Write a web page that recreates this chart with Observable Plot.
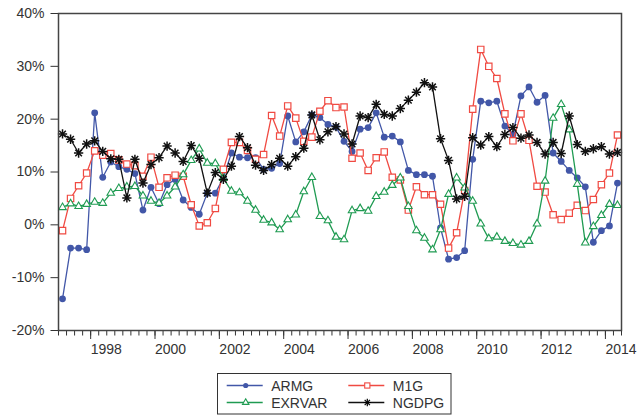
<!DOCTYPE html>
<html><head><meta charset="utf-8">
<script src="https://cdn.jsdelivr.net/npm/d3@7"></script>
<script src="https://cdn.jsdelivr.net/npm/@observablehq/plot@0.6"></script>
<style>
html,body{margin:0;padding:0;background:#fff;}
#wrap{position:relative;width:640px;height:415px;font-family:"Liberation Sans",Arial,sans-serif;}
#chart{position:absolute;left:0;top:0;}
#legend{position:absolute;left:217px;top:373px;}
</style></head>
<body><div id="wrap"><div id="chart"></div><div id="legend"></div></div>
<script>
// ---- data (quarterly, 1997Q1 .. 2014Q2), values in percent ----
const seriesNames = ["ARMG", "M1G", "EXRVAR", "NGDPG"];
const quarterLabels = d3.range(1997, 2015).flatMap(y => [1, 2, 3, 4].map(q => `${y}Q${q}`)).slice(0, 70);

const ARMG = [-14.0,-4.4,-4.4,-4.7,21.2,9.0,11.9,11.0,10.5,9.7,
  2.8,7.1,4.0,7.6,8.6,4.7,3.3,2.0,6.0,6.0,
  8.9,13.6,12.8,12.7,12.7,10.5,10.7,11.6,20.6,15.7,
  17.6,20.8,20.3,19.0,18.5,15.8,13.9,18.1,18.4,21.2,
  16.6,16.8,15.7,10.3,9.5,9.5,9.2,-0.6,-6.5,-6.2,
  -4.9,12.4,23.4,23.1,23.4,18.7,17.1,24.4,26.1,23.2,
  24.5,13.6,12.0,10.3,8.9,7.2,-3.3,-1.1,-0.2,7.9];

const M1G = [-1.1,5.0,7.4,9.8,14.0,13.2,13.5,12.3,11.5,11.2,
  9.2,12.8,7.1,8.9,9.4,9.2,3.8,-0.2,0.4,3.1,
  10.5,15.6,15.6,14.1,12.4,13.3,20.7,16.8,22.5,20.2,
  15.8,16.6,21.5,23.5,22.2,22.3,12.6,13.6,10.3,12.7,
  13.8,9.0,8.5,2.8,7.2,5.7,5.7,3.9,-4.4,-1.5,
  6.5,21.9,33.2,30.0,27.7,21.0,15.9,21.0,16.0,7.3,
  6.2,1.9,1.0,2.2,3.7,2.7,4.8,7.6,9.8,17.0];

const EXRVAR = [3.3,4.0,3.5,3.9,4.3,4.1,6.0,6.9,7.2,7.3,
  5.5,4.5,4.1,5.5,7.2,9.5,12.2,14.4,11.7,11.6,
  8.8,6.4,6.1,4.5,2.8,0.9,0.4,-0.9,1.0,1.9,
  6.3,9.0,1.6,0.8,-2.3,-2.8,2.7,3.1,2.6,5.4,
  6.2,7.5,8.9,3.5,-1.1,-2.5,-4.7,-0.9,5.8,8.9,
  7.0,4.5,0.2,-2.6,-2.3,-3.1,-3.5,-3.8,-3.1,0.2,
  8.3,20.2,22.8,18.0,7.7,-3.4,-0.3,1.8,3.9,3.7];

const NGDPG = [17.2,16.2,13.6,15.3,15.9,13.9,12.5,12.4,5.1,12.4,
  7.9,11.4,12.7,14.9,13.6,12.0,15.0,12.6,6.0,9.9,
  8.6,11.1,16.7,14.6,11.3,10.3,11.4,12.6,11.1,12.9,
  14.5,20.8,16.1,17.6,18.6,17.2,15.3,20.6,20.3,22.8,
  20.9,20.6,22.0,23.6,25.1,26.9,26.1,16.3,12.2,4.9,
  5.4,16.5,15.1,16.7,14.8,17.1,18.4,16.4,17.0,15.6,
  13.4,15.6,13.5,20.6,15.2,13.9,14.4,14.8,13.4,13.7];

const yTickValues = [-20, -10, 0, 10, 20, 30, 40];
const yearTickLabels = [1998, 2000, 2002, 2004, 2006, 2008, 2010, 2012, 2014];

// ---- build table ----
const colors = {ARMG: "#4257a8", M1G: "#f04a42", EXRVAR: "#1f9b52", NGDPG: "#111111"};
const qTime = lab => +lab.slice(0, 4) + (+lab.slice(5) - 1) / 4 + 0.125;
const valuesBySeries = {ARMG, M1G, EXRVAR, NGDPG};
const rows = {};
for (const s of seriesNames) rows[s] = valuesBySeries[s].map((v, i) => ({t: qTime(quarterLabels[i]), v, s}));
const minorTicks = d3.range(0, 71).map(k => 1997 + k / 4);

const lineOpts = (s) => ({x: "t", y: "v", stroke: colors[s], strokeWidth: 1.3});

const chart = Plot.plot({
  width: 640, height: 360,
  marginLeft: 58, marginRight: 19, marginTop: 13, marginBottom: 30,
  style: {fontFamily: "'Liberation Sans', Arial, sans-serif", fontSize: "14px", color: "#333", background: "#fff", overflow: "visible"},
  x: {domain: [1997, 2014.5], label: null},
  y: {domain: [-20, 40], label: null},
  marks: [
    Plot.axisY(yTickValues, {tickSize: 7.5, tickPadding: 6.5, tickFormat: d => d + "%", fontSize: 14, label: null}),
    Plot.axisX(minorTicks, {tickSize: 5.5, tickFormat: () => "", label: null}),
    Plot.axisX(yearTickLabels, {tickSize: 9, tickPadding: 5, tickFormat: d => String(d), textAnchor: "start", fontSize: 14, label: null}),
    Plot.line(rows.ARMG, lineOpts("ARMG")),
    Plot.dot(rows.ARMG, {x: "t", y: "v", symbol: "circle", r: 3.4, fill: colors.ARMG, stroke: "none"}),
    Plot.line(rows.M1G, lineOpts("M1G")),
    Plot.dot(rows.M1G, {x: "t", y: "v", symbol: "square", r: 3.6, fill: "white", stroke: colors.M1G, strokeWidth: 1.2}),
    Plot.line(rows.EXRVAR, lineOpts("EXRVAR")),
    Plot.dot(rows.EXRVAR, {x: "t", y: "v", symbol: "triangle", r: 2.8, fill: "white", stroke: colors.EXRVAR, strokeWidth: 1.1}),
    Plot.line(rows.NGDPG, lineOpts("NGDPG")),
    Plot.dot(rows.NGDPG, {x: "t", y: "v", symbol: "plus", r: 3.1, stroke: colors.NGDPG, strokeWidth: 1.5}),
    Plot.dot(rows.NGDPG, {x: "t", y: "v", symbol: "times", r: 3.1, stroke: colors.NGDPG, strokeWidth: 1.5}),
    Plot.dot(rows.NGDPG, {x: "t", y: "v", r: 1.8, fill: colors.NGDPG, stroke: "none"}),
    Plot.frame({stroke: "#444", strokeWidth: 1.5})
  ]
});
document.getElementById("chart").appendChild(chart);

// ---- legend ----
const lg = d3.select("#legend").append("svg").attr("width", 236).attr("height", 42)
  .style("font-family", "'Liberation Sans', Arial, sans-serif").style("font-size", "14px");
lg.append("rect").attr("x", 0.5).attr("y", 0.5).attr("width", 233.5).attr("height", 40.5)
  .attr("fill", "white").attr("stroke", "#333").attr("stroke-width", 1);
const legendPos = {ARMG: [0, 0], M1G: [1, 0], EXRVAR: [0, 1], NGDPG: [1, 1]};
for (const s of seriesNames) {
  const [c, r] = legendPos[s];
  const x0 = c === 0 ? 9.7 : 131.3, y0 = r === 0 ? 12.5 : 29.5;
  const g = lg.append("g");
  g.append("line").attr("x1", x0).attr("x2", x0 + 36).attr("y1", y0).attr("y2", y0)
    .attr("stroke", colors[s]).attr("stroke-width", 1.3);
  const mx = x0 + 19;
  if (s === "ARMG") g.append("circle").attr("cx", mx).attr("cy", y0).attr("r", 2.6).attr("fill", colors[s]);
  if (s === "M1G") g.append("rect").attr("x", mx - 2.6).attr("y", y0 - 2.6).attr("width", 5.2).attr("height", 5.2).attr("fill", "white").attr("stroke", colors[s]).attr("stroke-width", 1.1);
  if (s === "EXRVAR") g.append("path").attr("transform", `translate(${mx},${y0})`).attr("d", d3.symbol(d3.symbolTriangle, 18)()).attr("fill", "white").attr("stroke", colors[s]).attr("stroke-width", 1.1);
  if (s === "NGDPG") {
    g.append("path").attr("transform", `translate(${mx},${y0})`).attr("d", d3.symbol(d3.symbolPlus, 20)()).attr("fill", "none").attr("stroke", "#000").attr("stroke-width", 1.2);
    g.append("path").attr("transform", `translate(${mx},${y0})`).attr("d", d3.symbol(d3.symbolTimes, 20)()).attr("fill", "none").attr("stroke", "#000").attr("stroke-width", 1.2);
  }
  g.append("text").attr("x", x0 + 44.5).attr("y", y0).attr("dy", "0.36em").attr("fill", "#333").text(s);
}
</script>
</body></html>
